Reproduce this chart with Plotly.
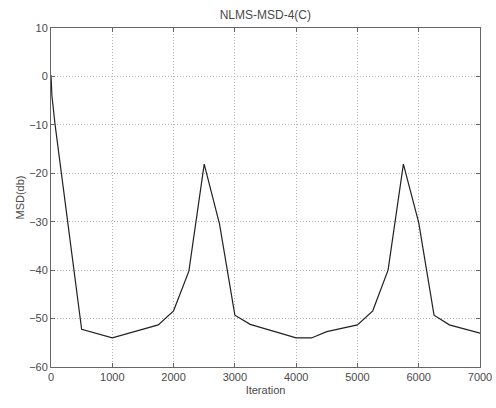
import plotly.graph_objects as go

iterations = [0, 15, 65, 500, 1000, 1750, 2000, 2250, 2500, 2750, 3000, 3250,
              4000, 4250, 4500, 5000, 5250, 5500, 5750, 6000, 6250, 6500, 7000]
msd_db = [0.3, -4, -9.8, -52.2, -54.0, -51.3, -48.4, -40.2, -18.1, -30.5, -49.3, -51.2,
          -54.0, -54.0, -52.7, -51.3, -48.4, -40.0, -18.1, -30.2, -49.3, -51.3, -53.0]

x_ticks = [0, 1000, 2000, 3000, 4000, 5000, 6000, 7000]
y_ticks = [10, 0, -10, -20, -30, -40, -50, -60]

FONT = "Liberation Sans, Arial"
TXT = "#4a4a4a"

fig = go.Figure()
fig.add_trace(go.Scatter(x=iterations, y=msd_db, mode="lines",
                         line=dict(color="#222222", width=1.2), showlegend=False))

axis_common = dict(
    showline=True, linecolor="#666666", linewidth=1, mirror="allticks",
    ticks="inside", ticklen=4, tickcolor="#666666",
    showgrid=True, gridcolor="#b4b4b4", griddash="1px,2px", gridwidth=1,
    zeroline=False, automargin=False,
    tickfont=dict(family=FONT, size=11, color=TXT),
)

fig.update_layout(
    width=496, height=408,
    paper_bgcolor="white", plot_bgcolor="white",
    margin=dict(l=51, r=16, t=28, b=41),
    title=dict(text="NLMS-MSD-4(C)", x=0.535, xanchor="center", y=0.963, yanchor="middle",
               font=dict(family=FONT, size=12, color=TXT)),
    xaxis=dict(range=[0, 7000], tickvals=x_ticks, **axis_common,
               title=dict(text="Iteration", standoff=4,
                          font=dict(family=FONT, size=11, color=TXT))),
    yaxis=dict(range=[-60, 10], tickvals=y_ticks, **axis_common,
               title=dict(text="MSD(db)", standoff=2,
                          font=dict(family=FONT, size=11, color=TXT))),
)

fig.write_html("out.html")
